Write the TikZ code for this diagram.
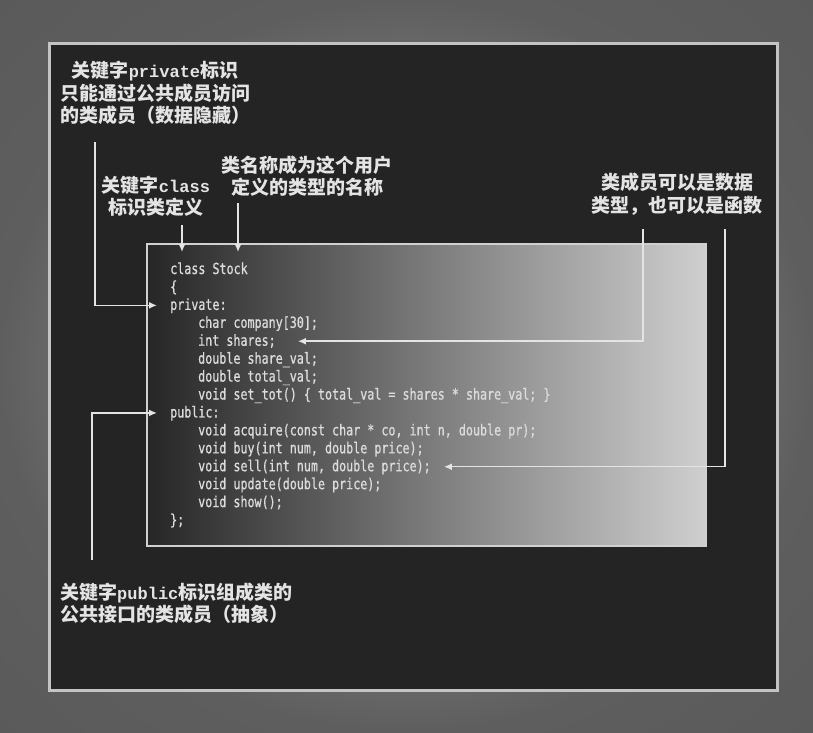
\documentclass[tikz,border=0pt]{standalone}
\usepackage{fontspec}
\usetikzlibrary{arrows.meta}
\newfontfamily\cjk{Noto Sans CJK SC}
\newfontfamily\lmono{Liberation Mono}
\newfontfamily\codefont{DejaVu Sans Mono}[FakeStretch=0.77,FakeBold=0.7]
\definecolor{panelc}{HTML}{242424}
\definecolor{borderc}{HTML}{C4C4C4}
\definecolor{labelc}{HTML}{E4E4E4}
\definecolor{codec}{HTML}{DCDCDC}
\definecolor{boxL}{HTML}{262626}
\definecolor{boxR}{HTML}{CFCFCF}
\definecolor{vgA}{HTML}{6A6A6A}
\definecolor{vgB}{HTML}{646464}
\definecolor{vgC}{HTML}{5E5E5E}
\definecolor{vgD}{HTML}{5A5A5A}
\pgfdeclareradialshading{vign}{\pgfpointorigin}{color(0bp)=(vgA); color(21bp)=(vgA); color(25bp)=(vgC); color(36bp)=(vgD)}
\newcommand{\lw}[1]{{\fontsize{17}{22.5}\selectfont\lmono\bfseries #1}}
\tikzset{
  lab/.style={text=labelc, align=center, inner sep=0pt, font=\cjk\bfseries\fontsize{19}{22.5}\selectfont},
  code/.style={text=codec, inner sep=0pt, anchor=base west, font=\codefont\fontsize{15.2}{18}\selectfont},
  arr/.style={draw=labelc, line width=1.5pt, -{Latex[length=8pt,width=7pt]}},
}
\begin{document}
\begin{tikzpicture}[x=1pt,y=-1pt]
\useasboundingbox (0,0) rectangle (813,732);
\shade[shading=vign] (0,0) rectangle (813,732);
\draw[fill=panelc, draw=borderc, line width=3pt] (49,43) rectangle (777,690);
% code box
\shade[left color=boxL, right color=boxR] (147,244) rectangle (706,546);
\draw[draw=borderc!80!white, line width=2pt] (147,244) rectangle (706,546);
\coordinate (box) at (426.5,244);
% code lines
\node[code] (l1) at (170,274) {class Stock};
\node[code] (l2) at (170,291.93) {\{};
\node[code] (l3) at (170,309.86) {private:};
\node[code] (l4) at (198,327.79) {char company[30];};
\node[code] (l5) at (198,345.72) {int shares;};
\node[code] (l6) at (198,363.65) {double share\_val;};
\node[code] (l7) at (198,381.58) {double total\_val;};
\node[code] (l8) at (198,399.51) {void set\_tot() \{ total\_val = shares * share\_val; \}};
\node[code] (l9) at (170,417.44) {public:};
\node[code] (l10) at (198,435.37) {void acquire(const char * co, int n, double pr);};
\node[code] (l11) at (198,453.30) {void buy(int num, double price);};
\node[code] (l12) at (198,471.23) {void sell(int num, double price);};
\node[code] (l13) at (198,489.16) {void update(double price);};
\node[code] (l14) at (198,507.09) {void show();};
\node[code] (l15) at (170,525.02) {\};};
% labels
\node[lab] (privlab) at (155,93) {关键字\lw{private}标识\\只能通过公共成员访问\\的类成员（数据隐藏）};
\node[lab] (classlab) at (156,196) {关键字\lw{class}\\标识类定义};
\node[lab] (namelab) at (307,176) {类名称成为这个用户\\定义的类型的名称};
\node[lab] (memblab) at (677,194) {类成员可以是数据\\类型，也可以是函数};
\node[lab, align=left, anchor=west] (publab) at (60,603) {关键字\lw{public}标识组成类的\\公共接口的类成员（抽象）};
% connectors
\coordinate (pv) at (95,142);
\coordinate (cv) at (182,225);
\coordinate (nv) at (238,203);
\coordinate (mv1) at (643,229);
\coordinate (mv2) at (725,229);
\coordinate (pbv) at (92,560);
\draw[arr] (pv) |- ([xshift=-13pt,yshift=4.5pt]l3.base west);
\draw[arr] (cv) -- ([yshift=-8pt]cv |- box);
\draw[arr] (nv) -- ([yshift=-8pt]nv |- box);
\draw[arr] (mv1) |- ([xshift=22pt,yshift=4.5pt]l5.base east);
\draw[arr] (mv2) |- ([xshift=13pt,yshift=4.5pt]l12.base east);
\draw[arr] (pbv) |- ([xshift=-13pt,yshift=4.5pt]l9.base west);
\end{tikzpicture}
\end{document}
